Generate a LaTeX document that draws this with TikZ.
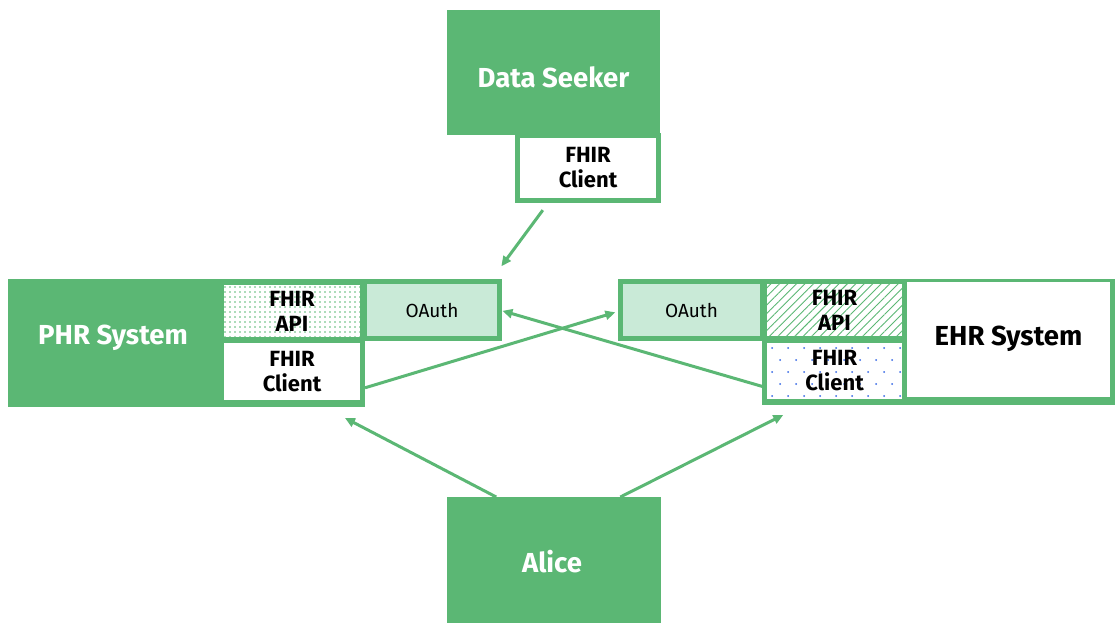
\documentclass[tikz,border=0pt]{standalone}
\usepackage{fontspec}
\setmainfont{Fira Sans}
\usetikzlibrary{arrows.meta,patterns.meta,calc}
\definecolor{leaf}{HTML}{5BB774}
\definecolor{mint}{HTML}{C9EAD7}
\definecolor{dotblue}{HTML}{3366E6}
\begin{document}
\begin{tikzpicture}[x=1pt,y=-1pt,
  box/.style={rectangle, inner sep=0pt, outer sep=0pt},
  solid/.style={box, fill=leaf},
  title/.style={box, text=white, font=\bfseries\fontsize{27.5}{30}\selectfont},
  cell/.style={box, fill=white, align=center, font=\bfseries\fontsize{22}{25}\selectfont},
  oauth/.style={box, fill=mint, font=\fontsize{19}{22}\selectfont},
  framed/.style={draw=leaf, line width=5pt},
  sparsedots/.style={path picture={
    \foreach \j in {0,...,4}{\foreach \i in {0,...,8}{
      \fill[dotblue] ($(path picture bounding box.north west)+({\i*16+5+8*mod(\j,2)},{\j*12+5})$) circle[radius=1pt];}}}},
  flow/.style={draw=leaf, line width=3pt, -{Triangle[length=10pt,width=9pt]}}]
\useasboundingbox (0,0) rectangle (1115,622);

% Data seeker with its FHIR client
\node[solid, minimum width=213pt, minimum height=125pt] (seeker) at (553.5,72.5) {};
\node[title] (seekerlabel) at (553.5,77) {Data Seeker};
\node[cell, framed, minimum width=141pt, minimum height=65pt] (seekerclient) at (588,168) {FHIR\\Client};

% PHR system
\node[solid, minimum width=357pt, minimum height=128pt] (phr) at (186.5,343) {};
\node[title] (phrlabel) at (113,338) {PHR System};
\node[cell, minimum width=136pt, minimum height=52pt,
      preaction={fill=white},
      pattern={Dots[distance=5pt,radius=0.8pt]}, pattern color=leaf] (phrapi) at (292,311) {FHIR\\API};
\node[cell, minimum width=136pt, minimum height=57pt] (phrclient) at (292,371.5) {FHIR\\Client};
\node[oauth, framed, minimum width=135pt, minimum height=57pt] (phroauth) at (432,310) {OAuth};

% EHR system
\node[solid, minimum width=353pt, minimum height=126pt] (ehr) at (938.5,342) {};
\node[solid, minimum width=147pt, minimum height=62pt] (ehrframe) at (691.5,310) {};
\node[oauth, minimum width=137pt, minimum height=52pt] (ehroauth) at (691.5,310) {OAuth};
\node[cell, minimum width=135pt, minimum height=52pt,
      preaction={fill=white},
      pattern={Lines[angle=45,distance=6pt,line width=0.9pt]}, pattern color=leaf] (ehrapi) at (834.5,310) {FHIR\\API};
\node[cell, minimum width=135pt, minimum height=56pt, sparsedots] (ehrclient) at (834.5,371) {FHIR\\Client};
\node[cell, minimum width=203pt, minimum height=115pt,
      font=\bfseries\fontsize{27.5}{30}\selectfont] (ehrsys) at (1008.5,339) {EHR System};

% Alice
\node[solid, minimum width=214pt, minimum height=126pt] (alice) at (554,560) {};
\node[title] (alicelabel) at (552,562) {Alice};

% Connectors
\draw[flow, shorten <=12pt, shorten >=19pt]
  ($(seekerclient.south west)!.23!(seekerclient.south east)$) -- ($(phroauth.north west)!.93!(phroauth.north east)$);
\draw[flow, shorten >=8pt]
  ($(phr.north east)!.85!(phr.south east)$) -- (ehroauth.west);
\draw[flow, shorten <=5pt, shorten >=3pt]
  ($(ehrclient.north west)!.8!(ehrclient.south west)$) -- (phroauth.east);
\draw[flow, shorten >=23.7pt]
  ($(alice.north west)!.23!(alice.north east)$) -- ($(phr.south west)!.885!(phr.south east)$);
\draw[flow, shorten >=22pt]
  ($(alice.north west)!.81!(alice.north east)$) -- ($(ehr.south west)!.116!(ehr.south east)$);
\end{tikzpicture}
\end{document}
